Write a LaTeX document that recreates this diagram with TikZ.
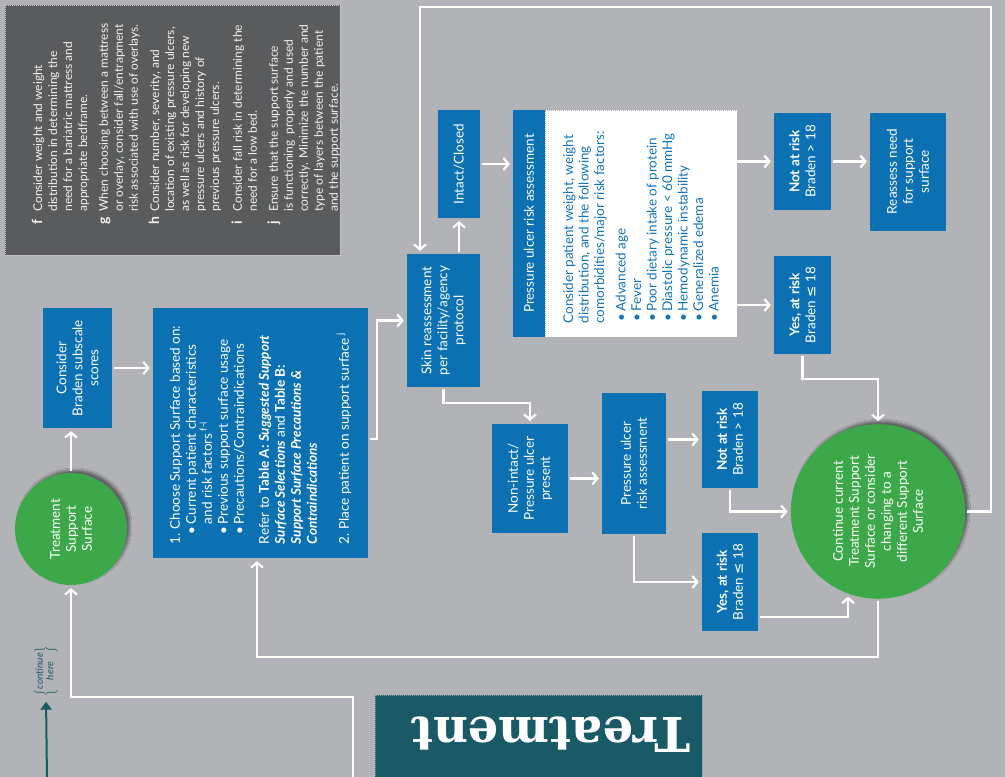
\documentclass[tikz,border=0pt]{standalone}
\usepackage{fontspec}
\usepackage{graphicx}
\setmainfont{Lato}
\newfontfamily\symfont{DejaVu Sans}
\newfontfamily\slabfont{DejaVu Serif}
\usetikzlibrary{arrows.meta}
\usetikzlibrary{shadows.blur}

\definecolor{bggray}{RGB}{178,179,182}
\definecolor{boxblue}{RGB}{12,113,179}
\definecolor{circgreen}{RGB}{61,168,74}
\definecolor{notegray}{RGB}{90,91,93}
\definecolor{darkteal}{RGB}{26,90,102}
\definecolor{factblue}{RGB}{22,116,186}

% rotated text blocks (read from bottom to top)
\newcommand{\vtxt}[2]{\rotatebox{90}{\parbox{#1}{\centering #2}}}
\newcommand{\vtxtl}[2]{\rotatebox{90}{\parbox{#1}{\raggedright #2}}}
\newcommand{\blt}{\hspace*{10pt}\makebox[10pt][l]{\textbullet}}
\newcommand{\fblt}{\hspace*{2pt}\makebox[10pt][l]{\textbullet}}
\newcommand{\leqsym}{{\symfont ≤}}

\tikzset{
    flowbox/.style={          % blue process boxes
        fill=boxblue,
        text=white,
        inner sep=0pt,
        font=\fontsize{13.5}{16}\selectfont},
    endcirc/.style={          % green start/end circles
        circle,
        fill=circgreen,
        text=white,
        inner sep=0pt,
        font=\fontsize{13.5}{16}\selectfont,
        blur shadow={shadow xshift=3pt, shadow yshift=3pt,
            shadow blur steps=8, shadow opacity=45}},
    factbox/.style={          % white dotted box with risk factors
        fill=white,
        draw=gray!60,
        dash pattern=on 1pt off 1pt,
        text=factblue,
        inner sep=0pt,
        font=\fontsize{13.5}{15.5}\selectfont},
    notebox/.style={          % dark footnote panel
        fill=notegray,
        draw=gray!40,
        dash pattern=on 1pt off 1pt,
        inner sep=0pt},
    flow/.style={             % white connectors
        draw=white,
        line width=2.2pt,
        ->,
        shorten >=3pt,
        shorten <=2pt}}

\begin{document}
\begin{tikzpicture}[x=1pt, y=-1pt, >={Straight Barb[length=5pt,width=12pt]}]
    \useasboundingbox (0,0) rectangle (1005,777);
    \fill[bggray] (0,0) rectangle (1005,777);

    % footnotes
    \node[notebox, minimum width=335pt, minimum height=250pt] (notes) at (172.5,130) {};
    \node[text=white!90!gray, inner sep=0pt, font=\fontsize{12}{15}\selectfont] (notestext) at (187,124) {\rotatebox{90}{%
        \begin{tabular}{@{}l@{\hspace{5pt}}l@{}}
        {\fontsize{14}{15}\selectfont\bfseries f} & Consider weight and weight\\
         & distribution in determining the\\
         & need for a bariatric mattress and\\
         & appropriate bedframe.\\[6pt]
        {\fontsize{14}{15}\selectfont\bfseries g} & When choosing between a mattress\\
         & or overlay, consider fall/entrapment\\
         & risk associated with use of overlays.\\[6pt]
        {\fontsize{14}{15}\selectfont\bfseries h} & Consider number, severity, and\\
         & location of existing pressure ulcers,\\
         & as well as risk for developing new\\
         & pressure ulcers and history of\\
         & previous pressure ulcers.\\[8pt]
        {\fontsize{14}{15}\selectfont\bfseries i} & Consider fall risk in determining the\\
         & need for a low bed.\\[6pt]
        {\fontsize{14}{15}\selectfont\bfseries j} & Ensure that the support surface\\
         & is functioning\ \ properly and used\\
         & correctly. Minimize the number and\\
         & type of layers between the patient\\
         & and the support surface.
        \end{tabular}}};

    % left column
    \node[endcirc, minimum size=112pt] (treatcirc) at (71,529) {\vtxt{100pt}{Treatment\\Support\\Surface}};
    \node[flowbox, minimum width=69pt, minimum height=120pt] (braden) at (77.5,368) {\vtxt{112pt}{Consider\\Braden subscale\\scores}};
    \node[flowbox, minimum width=215pt, minimum height=250pt] (choose) at (260.5,433) {\vtxtl{222pt}{%
        1.~Choose Support Surface based on:\\
        \blt Current patient characteristics\\
        \hspace*{20pt}and risk factors\,\textsuperscript{f-i}\\
        \blt Previous support surface usage\\
        \blt Precautions/Contraindications\\[9pt]
        Refer to \textbf{Table A: \textit{Suggested Support}}\\
        \textbf{\textit{Surface Selections}} and \textbf{Table B:}\\
        \textbf{\textit{Support Surface Precautions \&}}\\
        \textbf{\textit{Contraindications}}\\[16pt]
        2.~Place patient on support surface\,\textsuperscript{j}}};

    % skin reassessment branch
    \node[flowbox, minimum width=73pt, minimum height=133pt] (skin) at (443.5,320.5) {\vtxt{128pt}{Skin reassessment\\per facility/agency\\protocol}};
    \node[flowbox, minimum width=42pt, minimum height=108pt] (intact) at (459,164) {\vtxt{100pt}{Intact/Closed}};
    \node[flowbox, minimum width=32pt, minimum height=227pt] (pua) at (529,223.5) {\vtxt{220pt}{Pressure ulcer risk assessment}};
    \node[factbox, minimum width=192pt, minimum height=227pt] (factors) at (641,223.5) {\vtxtl{200pt}{%
        Consider patient weight, weight\\
        distribution, and the following\\
        comorbidities/major risk factors:\\[6pt]
        \fblt Advanced age\\
        \fblt Fever\\
        \fblt Poor dietary intake of protein\\
        \fblt Diastolic pressure < 60 mmHg\\
        \fblt Hemodynamic instability\\
        \fblt Generalized edema\\
        \fblt Anemia}};
    \node[flowbox, minimum width=57pt, minimum height=97pt] (notrisk1) at (802.5,161.5) {\vtxt{95pt}{\textbf{Not at risk}\\Braden > 18}};
    \node[flowbox, minimum width=76pt, minimum height=118pt] (reassess) at (908,171.5) {\vtxt{110pt}{Reassess need\\for support\\surface}};
    \node[flowbox, minimum width=57pt, minimum height=98pt] (yesrisk1) at (802.5,305) {\vtxt{95pt}{\textbf{Yes, at risk}\\Braden \leqsym{} 18}};

    \node[flowbox, minimum width=76pt, minimum height=109pt] (nonintact) at (530,478.5) {\vtxt{105pt}{Non-intact/\\Pressure ulcer\\present}};
    \node[flowbox, minimum width=64pt, minimum height=141pt] (pub) at (634,463.5) {\vtxt{135pt}{Pressure ulcer\\risk assessment}};
    \node[flowbox, minimum width=56pt, minimum height=97pt] (notrisk2) at (730,439.5) {\vtxt{95pt}{\textbf{Not at risk}\\Braden > 18}};
    \node[flowbox, minimum width=56pt, minimum height=98pt] (yesrisk2) at (730,582) {\vtxt{95pt}{\textbf{Yes, at risk}\\Braden \leqsym{} 18}};

    \node[endcirc, minimum size=172pt] (contcirc) at (878,511.5) {\vtxt{150pt}{Continue current\\Treatment Support\\Surface or consider\\changing to a\\different Support\\Surface}};

    % section tab and page link
    \node[fill=darkteal, draw=darkteal!60!white, dash pattern=on 1pt off 1pt, inner sep=0pt,
        minimum width=327pt, minimum height=110pt] (treatbox) at (538.5,750) {};
    \node[rotate=180, text=white, inner sep=0pt, font=\slabfont\bfseries\fontsize{48}{48}\selectfont] (treattitle) at (551,735) {Treatment};
    \node[text=darkteal, inner sep=0pt, font=\itshape\fontsize{10}{10.5}\selectfont] (contlbl) at (46,671) {\rotatebox{90}{$\left\{\begin{tabular}{@{}c@{}}\itshape continue\\ \itshape here\end{tabular}\right\}$}};
    \coordinate (tealstart) at (47,780);
    \coordinate (fromprev) at (353,780);
    \coordinate (lowbend) at (353,697);
    \coordinate (topright) at (991,7);
    \coordinate (topleft) at (420,7);

    % connectors
    \draw[darkteal, line width=2pt, -{Triangle[length=8pt,width=11pt]}, shorten >=5pt] (tealstart) -- (contlbl.south);
    \draw[flow] (fromprev) -- (lowbend) -| (treatcirc.south);
    \draw[flow] (treatcirc.north) -- (treatcirc.north |- braden.south);
    \draw[flow] (braden.east) -- (braden.east -| choose.west);
    \draw[flow] ([yshift=-6pt]choose.east) -- ++(9,0) |- (skin.west);
    \draw[flow] (intact.south |- skin.north) -- (intact.south);
    \draw[flow] (intact.east) -- (intact.east -| pua.west);
    \draw[flow, shorten <=0pt] (factors.east |- notrisk1.west) -- (notrisk1.west);
    \draw[flow, shorten <=0pt] (factors.east |- yesrisk1.west) -- (yesrisk1.west);
    \draw[flow] (notrisk1.east) -- (notrisk1.east -| reassess.west);
    \draw[flow] (yesrisk1.south) -- ++(0,25) -| (contcirc.north);
    \draw[flow] (skin.south) -- ++(0,16) -| (nonintact.north);
    \draw[flow] (nonintact.east) -- (nonintact.east -| pub.west);
    \draw[flow] (pub.east |- notrisk2.west) -- (notrisk2.west);
    \draw[flow] (pub.south) |- (yesrisk2.west);
    \draw[flow] (notrisk2.south) |- (contcirc.west);
    \draw[flow] ([yshift=-35pt]yesrisk2.east) -| (contcirc.250);
    \draw[flow] (contcirc.south) -- ++(0,58) -| ([xshift=-3.5pt]choose.south);
    \draw[flow] (contcirc.east) -| (topright) -- (topleft) -- (topleft |- skin.north);
\end{tikzpicture}
\end{document}
